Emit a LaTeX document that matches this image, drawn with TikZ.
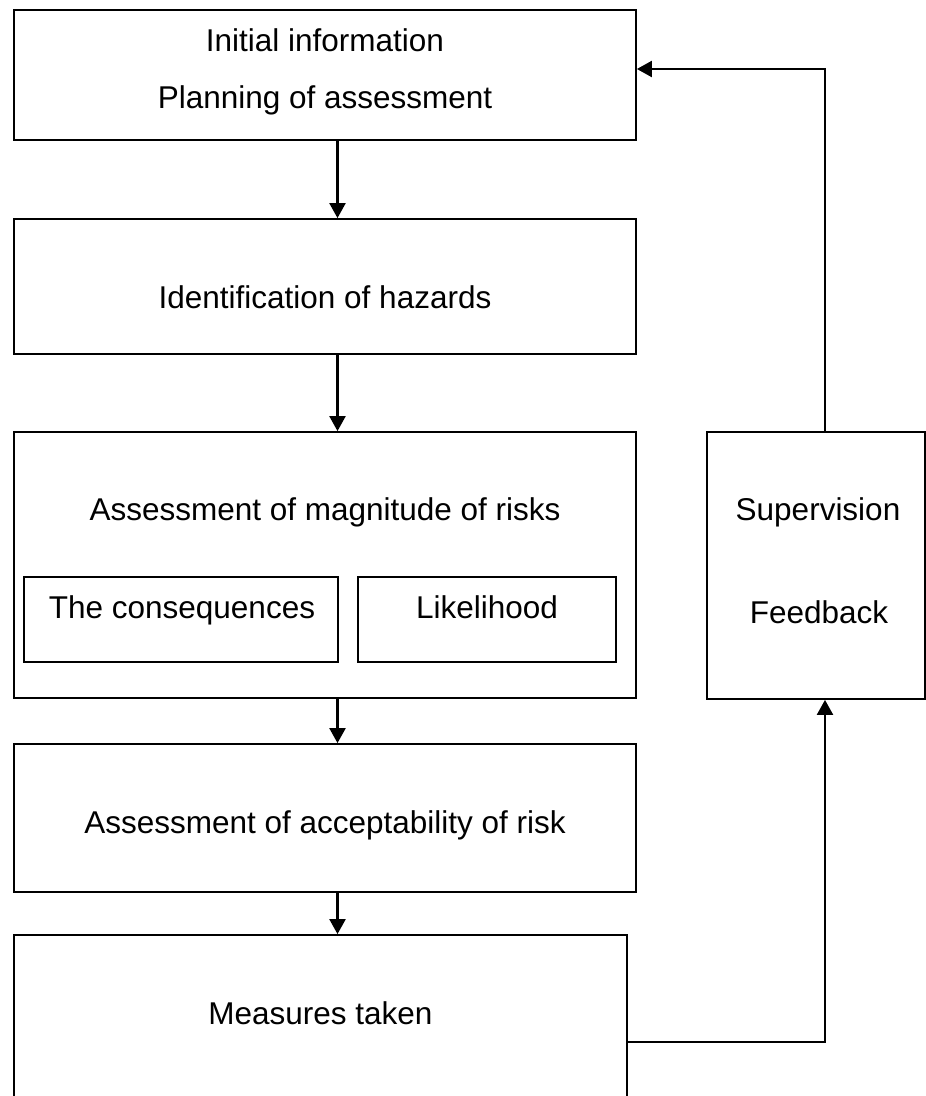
\documentclass[tikz,border=0pt]{standalone}
\usepackage{fontspec}
\setmainfont{Liberation Sans}
\usetikzlibrary{arrows.meta}
\tikzset{
  box/.style={draw, line width=1.8pt, rectangle, inner sep=0pt, anchor=center},
  lbl/.style={inner sep=0pt, anchor=base, font=\fontsize{31.5}{36}\selectfont},
  conn/.style={line width=2.2pt},
  arr/.style={conn, -{Triangle[length=15pt,width=16pt]}}
}
\begin{document}
\begin{tikzpicture}[x=1pt,y=-1pt]
\clip (0,0) rectangle (926,1096);
\fill[white] (0,0) rectangle (926,1096);
% boxes
\node[box, minimum width=622pt, minimum height=130pt] (b1) at (325,75) {};
\node[box, minimum width=622pt, minimum height=135pt] (b2) at (325,286.5) {};
\node[box, minimum width=622pt, minimum height=266pt] (b3) at (325,565) {};
\node[box, minimum width=314pt, minimum height=85pt] (i1) at (181,619.5) {};
\node[box, minimum width=258pt, minimum height=85pt] (i2) at (487,619.5) {};
\node[box, minimum width=622pt, minimum height=148pt] (b4) at (325,818) {};
\node[box, minimum width=613pt, minimum height=175pt] (b5) at (320.5,1022.5) {};
\node[box, minimum width=218pt, minimum height=267pt] (sb) at (816,565.5) {};
% texts
\node[lbl] (t1a) at (325,51) {Initial information};
\node[lbl] (t1b) at (325,108) {Planning of assessment};
\node[lbl] (t2) at (325,308) {Identification of hazards};
\node[lbl] (t3) at (325,520) {Assessment of magnitude of risks};
\node[lbl] (ti1) at (182,618) {The consequences};
\node[lbl] (ti2) at (487,618) {Likelihood};
\node[lbl] (t4) at (325,833) {Assessment of acceptability of risk};
\node[lbl] (t5) at (320.5,1024) {Measures taken};
\node[lbl] (ts1) at (818,520) {Supervision};
\node[lbl] (ts2) at (819,623) {Feedback};
% connector coordinates
\coordinate (xa) at (337.5,0);
\coordinate (xb) at (825,0);
\coordinate (yf) at (0,69);
\coordinate (ym) at (0,1042);
\coordinate (c1) at (xb |- yf);
\coordinate (c2) at (xb |- ym);
% vertical flow arrows
\draw[arr] (b1.south -| xa) -- (b2.north -| xa);
\draw[arr] (b2.south -| xa) -- (b3.north -| xa);
\draw[arr] (b3.south -| xa) -- (b4.north -| xa);
\draw[arr] (b4.south -| xa) -- (b5.north -| xa);
% loop
\draw[arr] (b5.east |- ym) -- (c2) -- (sb.south -| xb);
\draw[arr] (sb.north -| xb) -- (c1) -- (b1.east |- yf);
\end{tikzpicture}
\end{document}
